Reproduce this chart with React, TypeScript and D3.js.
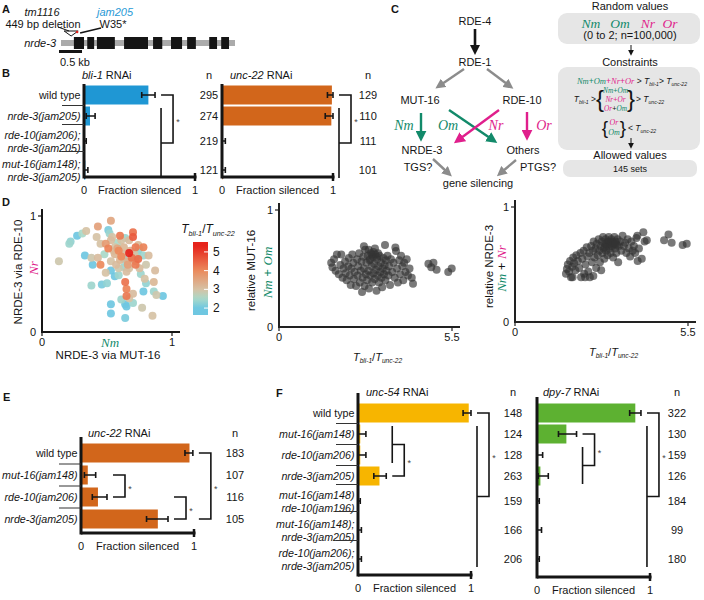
import React, { useEffect, useRef } from "react";
import * as d3 from "d3";

const SANS = "'Liberation Sans', Arial, Helvetica, sans-serif";
const SERIF = "'Liberation Serif', 'DejaVu Serif', serif";
const INK = "#151515";
const GREEN = "#128a6a";
const MAGENTA = "#e01f8c";
const ARROW_GRAY = "#8c8c8c";

// A: nrde-3 gene model (kb)
const geneLengthKb = 3.78;
const exonsKb: [number, number][] = [
  [0.28, 0.5], [0.57, 0.72], [0.78, 1.17], [1.37, 1.89], [2.0, 2.2],
  [2.39, 2.63], [2.74, 2.93], [3.22, 3.39], [3.48, 3.65],
];
const deletionKb = 0.22;
const jam205Kb = 0.35;
const scaleBarKb = 0.5;

// B: bli-1 and unc-22 RNAi
const bGenotypes = [
  ["wild type"], ["nrde-3(jam205)"],
  ["rde-10(jam206);", "nrde-3(jam205)"], ["mut-16(jam148);", "nrde-3(jam205)"],
];
const bli1Mean = [0.58, 0.054, 0.004, 0.012];
const bli1Low = [0.52, 0.02, 0, 0];
const bli1High = [0.64, 0.1, 0.02, 0.035];
const bli1N = [295, 274, 219, 121];
const bli1Brackets = [{ top: [0], bottom: [1, 3] }];
const unc22Mean = [0.99, 0.985, 0.004, 0.004];
const unc22Low = [0.95, 0.93, 0, 0];
const unc22High = [1.0, 1.0, 0.03, 0.03];
const unc22N = [129, 110, 111, 101];
const unc22Brackets = [{ top: [0], bottom: [1, 3] }];

// E: unc-22 RNAi single mutants
const eGenotypes = [["wild type"], ["mut-16(jam148)"], ["rde-10(jam206)"], ["nrde-3(jam205)"]];
const eMean = [0.96, 0.06, 0.15, 0.68];
const eLow = [0.92, 0.03, 0.1, 0.58];
const eHigh = [0.99, 0.13, 0.23, 0.77];
const eN = [183, 107, 116, 105];
const eBrackets = [
  { top: [1], bottom: [2] },
  { top: [2], bottom: [3] },
  { top: [0], bottom: [3] },
];

// F: unc-54 and dpy-7 RNAi
const fGenotypes = [
  ["wild type"], ["mut-16(jam148)"], ["rde-10(jam206)"], ["nrde-3(jam205)"],
  ["mut-16(jam148)", "rde-10(jam196)"], ["mut-16(jam148);", "nrde-3(jam205)"],
  ["rde-10(jam206);", "nrde-3(jam205)"],
];
const unc54Mean = [0.98, 0.02, 0.02, 0.19, 0.003, 0.006, 0.006];
const unc54Low = [0.93, 0, 0, 0.14, 0, 0, 0];
const unc54High = [1.0, 0.07, 0.07, 0.25, 0.02, 0.03, 0.03];
const unc54N = [148, 124, 128, 263, 159, 166, 206];
const unc54Brackets = [{ top: [1, 2], bottom: [3] }, { top: [0], bottom: [1, 6] }];
const dpy7Mean = [0.87, 0.26, 0.01, 0.03, 0.005, 0.005, 0.005];
const dpy7Low = [0.82, 0.19, 0, 0.01, 0, 0, 0];
const dpy7High = [0.92, 0.35, 0.05, 0.1, 0.02, 0.04, 0.02];
const dpy7N = [322, 130, 159, 126, 184, 99, 180];
const dpy7Brackets = [{ top: [1], bottom: [2, 3] }, { top: [0], bottom: [1, 6] }];

// D: allowed parameter sets  [Nm, Nr, Tbli-1/Tunc-22]
const setsNmNr: [number, number, number][] = [
  [0.27, 0.83, 2.0], [0.33, 0.66, 1.9], [0.39, 0.58, 2.0], [0.53, 0.53, 2.0], [0.56, 0.48, 1.9],
  [0.46, 0.41, 2.1], [0.78, 0.35, 2.0], [0.93, 0.31, 2.0], [0.53, 0.24, 1.9], [0.64, 0.24, 2.0],
  [0.65, 0.22, 1.9], [0.53, 0.16, 2.0], [0.64, 0.12, 2.1], [0.51, 0.88, 2.1], [0.74, 0.7, 2.0],
  [0.21, 0.76, 2.4], [0.22, 0.78, 2.3], [0.31, 0.85, 2.5], [0.52, 0.85, 2.4], [0.59, 0.49, 2.4],
  [0.38, 0.4, 2.4], [0.5, 0.42, 2.3], [0.76, 0.5, 2.4], [0.8, 0.42, 2.3], [0.86, 0.35, 2.4],
  [0.61, 0.28, 2.4], [0.7, 0.25, 2.4], [0.63, 0.63, 2.3], [0.75, 0.72, 2.4], [0.78, 0.66, 2.4],
  [0.48, 0.67, 2.5], [0.63, 0.56, 2.4], [0.64, 0.81, 2.4], [0.73, 0.66, 2.4], [0.58, 0.77, 2.5],
  [0.13, 0.61, 2.9], [0.34, 0.87, 3.0], [0.42, 0.82, 3.0], [0.38, 0.64, 2.9], [0.43, 0.64, 3.1],
  [0.54, 0.82, 3.0], [0.67, 0.79, 3.1], [0.56, 0.73, 3.0], [0.63, 0.73, 3.2], [0.69, 0.63, 3.0],
  [0.82, 0.66, 3.1], [0.8, 0.58, 2.9], [0.87, 0.53, 3.1], [0.49, 0.51, 3.0], [0.79, 0.46, 3.0],
  [0.86, 0.43, 3.2], [0.88, 0.32, 2.9], [0.7, 0.33, 3.1], [0.67, 0.29, 3.0], [0.77, 0.21, 2.9],
  [0.85, 0.14, 3.0], [0.56, 0.67, 3.2], [0.62, 0.67, 3.1], [0.71, 0.67, 3.0], [0.72, 0.61, 3.2],
  [0.67, 0.55, 3.0], [0.75, 0.55, 3.1], [0.53, 0.61, 3.0], [0.57, 0.58, 3.1], [0.59, 0.55, 2.9],
  [0.53, 0.79, 3.1], [0.61, 0.79, 3.0], [0.74, 0.75, 3.2], [0.66, 0.61, 3.3], [0.6, 0.62, 3.2],
  [0.55, 0.7, 3.0], [0.68, 0.7, 3.3], [0.45, 0.76, 3.0], [0.65, 0.52, 3.1],
  [0.43, 0.91, 3.6], [0.53, 0.96, 3.5], [0.49, 0.76, 3.7], [0.58, 0.72, 3.5], [0.66, 0.58, 3.6],
  [0.45, 0.58, 4.0], [0.6, 0.83, 4.2], [0.7, 0.86, 4.3], [0.7, 0.82, 4.6], [0.51, 0.72, 4.1],
  [0.72, 0.58, 4.2], [0.64, 0.43, 4.3], [0.65, 0.37, 4.1], [0.65, 0.31, 4.2], [0.59, 0.7, 4.0],
  [0.72, 0.73, 4.2], [0.78, 0.73, 4.1], [0.74, 0.63, 4.4], [0.61, 0.65, 4.0], [0.69, 0.64, 4.3],
  [0.67, 0.68, 5.3],
];
const ratioStops = [2, 2.5, 3, 4, 5.3];
const ratioColors = ["#6fc7e1", "#a9d9c8", "#d6c2a5", "#eb8a5c", "#e6231b"];
const ratioTicks = [2, 3, 4, 5];

// [Tbli-1/Tunc-22, Nm + Om]
const setsMut16: [number, number][] = [
  [1.66, 0.55], [1.7, 0.51], [1.75, 0.58], [1.8, 0.48], [1.84, 0.62], [1.9, 0.45], [1.95, 0.53],
  [1.98, 0.62], [2.02, 0.42], [2.05, 0.5], [2.1, 0.56], [2.12, 0.46], [2.15, 0.4], [2.2, 0.52],
  [2.22, 0.59], [2.25, 0.44], [2.28, 0.36], [2.3, 0.5], [2.33, 0.62], [2.36, 0.55], [2.38, 0.41],
  [2.4, 0.47], [2.45, 0.35], [2.48, 0.58], [2.5, 0.44], [2.52, 0.52], [2.55, 0.63], [2.57, 0.38],
  [2.6, 0.48], [2.62, 0.56], [2.64, 0.3], [2.66, 0.42], [2.68, 0.6], [2.7, 0.5], [2.72, 0.35],
  [2.74, 0.66], [2.76, 0.45], [2.78, 0.55], [2.8, 0.4], [2.82, 0.61], [2.84, 0.48], [2.86, 0.33],
  [2.88, 0.57], [2.9, 0.44], [2.92, 0.63], [2.94, 0.52], [2.96, 0.38], [2.98, 0.6], [3.0, 0.46],
  [3.02, 0.54], [3.04, 0.41], [3.06, 0.62], [3.08, 0.49], [3.1, 0.31], [3.12, 0.58], [3.14, 0.44],
  [3.16, 0.52], [3.18, 0.38], [3.2, 0.61], [3.22, 0.47], [3.24, 0.55], [3.26, 0.42], [3.28, 0.34],
  [3.3, 0.5], [3.32, 0.59], [3.34, 0.45], [3.36, 0.53], [3.38, 0.4], [3.4, 0.57], [3.42, 0.48],
  [3.45, 0.61], [3.48, 0.44], [3.5, 0.52], [3.53, 0.36], [3.56, 0.58], [3.6, 0.47], [3.64, 0.55],
  [3.68, 0.42], [3.72, 0.65], [3.75, 0.5], [3.78, 0.38], [3.82, 0.57], [3.85, 0.45], [3.88, 0.61],
  [3.92, 0.52], [3.95, 0.4], [3.98, 0.55], [4.02, 0.47], [4.06, 0.58], [4.1, 0.44], [4.15, 0.5],
  [4.22, 0.42], [4.26, 0.37], [2.7, 0.69], [2.85, 0.66], [3.05, 0.67], [3.37, 0.7], [3.7, 0.68],
  [2.95, 0.62], [3.0, 0.64], [3.1, 0.6], [2.9, 0.58], [3.15, 0.63],
  [4.75, 0.54], [4.91, 0.55], [4.84, 0.51], [5.01, 0.49], [5.38, 0.47], [5.49, 0.5],
];

// [Tbli-1/Tunc-22, Nm + Nr]
const setsNrde3: [number, number][] = [
  [1.62, 0.42], [1.65, 0.46], [1.68, 0.5], [1.72, 0.44], [1.75, 0.53], [1.78, 0.39], [1.82, 0.48],
  [1.85, 0.56], [1.88, 0.51], [1.92, 0.45], [1.95, 0.58], [2.0, 0.53], [2.04, 0.47], [2.08, 0.6],
  [2.1, 0.39], [2.14, 0.55], [2.18, 0.62], [2.2, 0.42], [2.24, 0.5], [2.28, 0.65], [2.3, 0.57],
  [2.33, 0.44], [2.36, 0.6], [2.38, 0.39], [2.42, 0.66], [2.45, 0.52], [2.48, 0.62], [2.5, 0.7],
  [2.53, 0.56], [2.56, 0.64], [2.58, 0.47], [2.6, 0.68], [2.63, 0.58], [2.66, 0.72], [2.68, 0.62],
  [2.7, 0.52], [2.72, 0.66], [2.74, 0.45], [2.76, 0.7], [2.78, 0.6], [2.8, 0.74], [2.82, 0.64],
  [2.84, 0.55], [2.86, 0.68], [2.88, 0.72], [2.9, 0.62], [2.92, 0.66], [2.94, 0.58], [2.96, 0.7],
  [2.98, 0.74], [3.0, 0.64], [3.02, 0.68], [3.04, 0.6], [3.06, 0.72], [3.08, 0.66], [3.1, 0.7],
  [3.12, 0.56], [3.14, 0.68], [3.16, 0.74], [3.18, 0.64], [3.2, 0.7], [3.22, 0.6], [3.24, 0.67],
  [3.26, 0.72], [3.28, 0.52], [3.3, 0.66], [3.34, 0.7], [3.38, 0.62], [3.42, 0.75], [3.46, 0.66],
  [3.5, 0.69], [3.54, 0.6], [3.58, 0.72], [3.62, 0.64], [3.66, 0.57], [3.7, 0.7], [3.74, 0.62],
  [3.78, 0.66], [3.82, 0.6], [3.86, 0.73], [3.89, 0.75], [3.9, 0.53], [3.94, 0.64], [4.03, 0.55],
  [4.08, 0.78], [4.12, 0.7], [4.19, 0.71], [2.9, 0.68], [3.0, 0.7], [3.1, 0.66], [2.85, 0.65],
  [3.2, 0.68], [1.83, 0.39], [2.23, 0.39], [2.49, 0.4],
  [4.74, 0.71], [4.88, 0.76], [4.98, 0.69], [5.33, 0.67], [5.46, 0.68],
];

type Sel = any;
type Part = { s: string; c?: string; i?: boolean; serif?: boolean; sub?: boolean };

function txt(g: Sel, x: number, y: number, s: string, o: any = {}) {
  const t = g.append("text")
    .attr("x", x).attr("y", y)
    .attr("font-size", o.size ?? 11)
    .attr("text-anchor", o.anchor ?? "middle")
    .attr("dominant-baseline", "central")
    .attr("fill", o.fill ?? INK)
    .text(s);
  if (o.weight) t.attr("font-weight", o.weight);
  if (o.italic) t.attr("font-style", "italic");
  if (o.family) t.attr("font-family", o.family);
  if (o.rotate) t.attr("transform", `rotate(${o.rotate},${x},${y})`);
  return t;
}

function rich(g: Sel, x: number, y: number, parts: Part[], size: number, anchor = "middle", rotate = 0) {
  const t = g.append("text").attr("x", x).attr("y", y)
    .attr("font-size", size).attr("text-anchor", anchor)
    .attr("dominant-baseline", "central").attr("fill", INK);
  let inSub = false;
  parts.forEach((p) => {
    const ts = t.append("tspan").text(p.s);
    if (p.c) ts.attr("fill", p.c);
    if (p.i) ts.attr("font-style", "italic");
    if (p.serif) ts.attr("font-family", SERIF);
    if (p.sub) {
      ts.attr("font-size", size * 0.6);
      if (!inSub) ts.attr("dy", size * 0.3);
      inSub = true;
    } else if (inSub) {
      ts.attr("dy", -size * 0.3);
      inSub = false;
    }
  });
  if (rotate) t.attr("transform", `rotate(${rotate},${x},${y})`);
  return t;
}

const ratioParts = (): Part[] => [
  { s: "T", i: true }, { s: "bli-1", i: true, sub: true }, { s: "/" },
  { s: "T", i: true }, { s: "unc-22", i: true, sub: true },
];
const sym = (s: string, c: string): Part => ({ s, c, i: true, serif: true });

function panelLetter(g: Sel, x: number, y: number, s: string) {
  txt(g, x, y, s, { size: 11, weight: "bold", anchor: "start" });
}

function rowCenters(genotypes: string[][], first: number, single: number) {
  const h = genotypes.map((l) => (l.length > 1 ? single + 8 : single));
  const ys: number[] = [first];
  for (let i = 1; i < h.length; i++) ys.push(ys[i - 1] + (h[i - 1] + h[i]) / 2);
  return ys;
}

function barPanel(svg: Sel, c: any) {
  const g = svg.append("g");
  const x = d3.scaleLinear().domain([0, 1]).range([c.x0, c.x1]);
  const ys = rowCenters(c.genotypes, c.firstRow, c.single);
  const bh = 19;

  rich(g, c.titleX, c.titleY, [{ s: c.gene, i: true }, { s: " RNAi" }], 11, "start");

  g.selectAll(".bar").data(c.mean).enter().append("rect")
    .attr("x", c.x0).attr("y", (_: any, i: number) => ys[i] - bh / 2)
    .attr("width", (d: number) => x(d) - c.x0).attr("height", bh)
    .attr("fill", c.color);

  c.mean.forEach((_: number, i: number) => {
    const lo = x(c.low[i]), hi = x(c.high[i]);
    g.append("path")
      .attr("d", `M${lo},${ys[i]}H${hi}M${lo},${ys[i] - 3}V${ys[i] + 3}M${hi},${ys[i] - 3}V${ys[i] + 3}`)
      .attr("stroke", INK).attr("stroke-width", 1.6).attr("fill", "none");
  });

  // axes
  g.append("line").attr("x1", c.x0).attr("x2", c.x0).attr("y1", c.axisTop).attr("y2", c.axisY + 1.5)
    .attr("stroke", INK).attr("stroke-width", 3);
  g.append("line").attr("x1", c.x0).attr("x2", c.x1 + 1.5).attr("y1", c.axisY).attr("y2", c.axisY)
    .attr("stroke", INK).attr("stroke-width", 3);
  g.append("line").attr("x1", x(1)).attr("x2", x(1)).attr("y1", c.axisY - 4).attr("y2", c.axisY + 4)
    .attr("stroke", INK).attr("stroke-width", 2.5);
  txt(g, x(0), c.axisY + 13, "0");
  txt(g, x(1), c.axisY + 13, "1");
  txt(g, (c.x0 + c.x1) / 2, c.axisY + 13, "Fraction silenced");

  if (c.showLabels) {
    c.genotypes.forEach((lines: string[], i: number) => {
      lines.forEach((l, k) => {
        const dy = lines.length > 1 ? (k === 0 ? -6.5 : 6.5) : 0;
        txt(g, c.x0 - 3.5, ys[i] + dy, l, { anchor: "end", italic: l !== "wild type", size: 10.7 });
      });
      if (i > 0) {
        const sy = (ys[i - 1] + ys[i]) / 2 + (lines.length > 1 ? -4 : 0);
        g.append("line").attr("x1", c.x0 - 22).attr("x2", c.x0).attr("y1", sy).attr("y2", sy)
          .attr("stroke", "#333").attr("stroke-width", 1);
      }
    });
  }

  txt(g, c.nX, c.titleY, "n");
  c.n.forEach((v: number, i: number) => txt(g, c.nX, ys[i], String(v)));

  c.brackets.forEach((b: any) => {
    const rows = d3.range(b.top[0], b.bottom[b.bottom.length - 1] + 1);
    const left = (d3.max(rows, (r: number) => x(c.high[r])) as number) + 6;
    const right = left + 12;
    const arm = (grp: number[]) => {
      if (grp.length === 1) return ys[grp[0]];
      const y1 = ys[grp[0]] - 8, y2 = ys[grp[1]] + 8;
      g.append("line").attr("x1", left).attr("x2", left).attr("y1", y1).attr("y2", y2)
        .attr("stroke", INK).attr("stroke-width", 1.6);
      return (y1 + y2) / 2;
    };
    const ya = arm(b.top), yb = arm(b.bottom);
    g.append("path").attr("d", `M${left},${ya}H${right}V${yb}H${left}`)
      .attr("fill", "none").attr("stroke", INK).attr("stroke-width", 1.6);
    txt(g, right + 5, (ya + yb) / 2 + 3, "*", { size: 9, fill: "#444" });
  });
}

function drawA(svg: Sel) {
  const g = svg.append("g");
  panelLetter(g, 2, 9, "A");
  const x = d3.scaleLinear().domain([0, geneLengthKb]).range([61, 235]);
  const ym = 43;
  g.append("rect").attr("x", x(0)).attr("y", ym - 3).attr("width", x(geneLengthKb) - x(0))
    .attr("height", 6).attr("fill", "#ababab");
  g.selectAll(".exon").data(exonsKb).enter().append("rect")
    .attr("x", (d: number[]) => x(d[0])).attr("y", ym - 6)
    .attr("width", (d: number[]) => x(d[1]) - x(d[0])).attr("height", 12).attr("fill", INK);
  g.append("rect").attr("x", x(0) - 2).attr("y", 50).attr("width", x(scaleBarKb) - x(0))
    .attr("height", 3).attr("fill", INK);
  txt(g, x(0) - 1, 62, "0.5 kb", { anchor: "start" });
  txt(g, 56, ym, "nrde-3", { anchor: "end", italic: true });
  txt(g, 42, 12, "tm1116", { italic: true });
  txt(g, 43, 24, "449 bp deletion");
  txt(g, 115, 12, "jam205", { italic: true, fill: "#2a9ad6" });
  txt(g, 113, 24, "W35*");
  const dx = x(deletionKb);
  g.append("path").attr("d", `M${dx - 7},${31}L${dx + 7},${31}L${dx},${36}Z`)
    .attr("fill", "#fff").attr("stroke", INK).attr("stroke-width", 1);
  g.append("line").attr("x1", 58).attr("y1", 27).attr("x2", dx - 2).attr("y2", 31)
    .attr("stroke", INK).attr("stroke-width", 1);
  g.append("circle").attr("cx", x(jam205Kb)).attr("cy", 32).attr("r", 1.3).attr("fill", "#e0201b");
  g.append("line").attr("x1", 101).attr("y1", 28).attr("x2", x(jam205Kb) + 3).attr("y2", 33)
    .attr("stroke", INK).attr("stroke-width", 1.6);
}

function drawC(svg: Sel) {
  const g = svg.append("g");
  panelLetter(g, 391, 9, "C");
  const defs = svg.append("defs");
  const marker = (id: string, col: string, s: number) => {
    defs.append("marker").attr("id", id).attr("viewBox", "0 0 10 10").attr("refX", 2).attr("refY", 5)
      .attr("markerUnits", "userSpaceOnUse").attr("markerWidth", s).attr("markerHeight", s)
      .attr("orient", "auto").append("path").attr("d", "M0,0L10,5L0,10Z").attr("fill", col);
  };
  marker("mk-black", INK, 10);
  marker("mk-gray", ARROW_GRAY, 10);
  marker("mk-green", GREEN, 11);
  marker("mk-mag", MAGENTA, 11);
  marker("mk-small", INK, 6);
  const arrow = (x1: number, y1: number, x2: number, y2: number, col: string, mk: string, w = 2.4) =>
    g.append("line").attr("x1", x1).attr("y1", y1).attr("x2", x2).attr("y2", y2)
      .attr("stroke", col).attr("stroke-width", w).attr("marker-end", `url(#${mk})`);

  txt(g, 475, 21, "RDE-4");
  txt(g, 475, 62, "RDE-1");
  txt(g, 420, 100, "MUT-16");
  txt(g, 522, 100, "RDE-10");
  txt(g, 422, 150, "NRDE-3");
  txt(g, 523, 150, "Others");
  txt(g, 418, 167, "TGS?");
  txt(g, 538, 167, "PTGS?");
  txt(g, 478, 183, "gene silencing");

  arrow(475, 29, 475, 47, INK, "mk-black", 2.6);
  arrow(464, 69, 442, 84, ARROW_GRAY, "mk-gray");
  arrow(487, 69, 507, 84, ARROW_GRAY, "mk-gray");
  arrow(421, 113, 421, 133, GREEN, "mk-green");
  arrow(449, 110, 490, 138, GREEN, "mk-green");
  arrow(499, 110, 461, 138, MAGENTA, "mk-mag");
  arrow(527, 112, 527, 132, MAGENTA, "mk-mag");
  arrow(433, 159, 446, 171, ARROW_GRAY, "mk-gray");
  arrow(516, 160, 503, 171, ARROW_GRAY, "mk-gray");

  rich(g, 404, 125, [sym("Nm", GREEN)], 14);
  rich(g, 448, 125, [sym("Om", GREEN)], 14);
  rich(g, 496, 125, [sym("Nr", MAGENTA)], 14);
  rich(g, 544, 125, [sym("Or", MAGENTA)], 14);

  // simulation flow
  txt(g, 630, 6, "Random values");
  g.append("rect").attr("x", 558).attr("y", 13).attr("width", 142).attr("height", 31).attr("rx", 9).attr("fill", "#e6e6e6");
  rich(g, 591, 23, [sym("Nm", GREEN)], 13.5);
  rich(g, 620, 23, [sym("Om", GREEN)], 13.5);
  rich(g, 648, 23, [sym("Nr", MAGENTA)], 13.5);
  rich(g, 670, 23, [sym("Or", MAGENTA)], 13.5);
  txt(g, 630, 35, "(0 to 2; n=100,000)");
  arrow(631, 45, 631, 51, INK, "mk-small", 1);
  txt(g, 630, 62, "Constraints");
  g.append("rect").attr("x", 558).attr("y", 67).attr("width", 142).attr("height", 83).attr("rx", 9).attr("fill", "#e6e6e6");
  const T = (sub: string): Part[] => [{ s: "T", i: true }, { s: sub, i: true, sub: true }];
  rich(g, 632, 81, [
    sym("Nm", GREEN), { s: "+", c: GREEN }, sym("Om", GREEN), { s: "+", c: MAGENTA }, sym("Nr", MAGENTA),
    { s: "+", c: MAGENTA }, sym("Or", MAGENTA), { s: " > " }, ...T("bli-1"), { s: "> " }, ...T("unc-22"),
  ], 8.5);
  rich(g, 596, 99, [...T("bli-1"), { s: " >" }], 8.5, "end");
  txt(g, 600, 98, "{", { size: 24, weight: 300 });
  txt(g, 631, 98, "}", { size: 24, weight: 300 });
  rich(g, 615.5, 90, [sym("Nm", GREEN), { s: "+", c: GREEN }, sym("Om", GREEN)], 7.3);
  rich(g, 615.5, 99, [sym("Nr", MAGENTA), { s: "+", c: MAGENTA }, sym("Or", MAGENTA)], 7.3);
  rich(g, 615.5, 108, [sym("Or", MAGENTA), { s: "+" }, sym("Om", GREEN)], 7.3);
  rich(g, 636, 99, [{ s: "> " }, ...T("unc-22")], 8.5, "start");
  txt(g, 605, 127, "{", { size: 19, weight: 300 });
  txt(g, 623, 127, "}", { size: 19, weight: 300 });
  rich(g, 614, 122, [sym("Or", MAGENTA)], 8);
  rich(g, 614, 132, [sym("Om", GREEN)], 8);
  rich(g, 628, 128, [{ s: "< " }, ...T("unc-22")], 8.5, "start");
  arrow(631, 138, 631, 144, INK, "mk-small", 1);
  txt(g, 630, 155, "Allowed values");
  g.append("rect").attr("x", 563).attr("y", 160).attr("width", 134).attr("height", 17).attr("rx", 7).attr("fill", "#e6e6e6");
  txt(g, 630, 169, "145 sets", { size: 9 });
}

function axesFrame(g: Sel, x: any, y: any, xTicks: number[], col: string) {
  const [xa, xb] = x.range();
  const [yb, ya] = y.range();
  g.append("line").attr("x1", xa).attr("x2", xa).attr("y1", ya - 7).attr("y2", yb + 1)
    .attr("stroke", col).attr("stroke-width", 2);
  g.append("line").attr("x1", xa).attr("x2", xb + 8).attr("y1", yb).attr("y2", yb)
    .attr("stroke", col).attr("stroke-width", 2);
  g.append("line").attr("x1", xa - 4).attr("x2", xa).attr("y1", y(1)).attr("y2", y(1)).attr("stroke", col).attr("stroke-width", 1.2);
  txt(g, xa - 6, y(1), "1", { anchor: "end" });
  txt(g, xa - 6, y(0), "0", { anchor: "end" });
  xTicks.forEach((v) => {
    g.append("line").attr("x1", x(v)).attr("x2", x(v)).attr("y1", yb).attr("y2", yb + 4).attr("stroke", col).attr("stroke-width", 1.2);
    txt(g, x(v), yb + 10, String(v));
  });
}

function drawD(svg: Sel) {
  const g = svg.append("g");
  panelLetter(g, 2, 202, "D");
  const x = d3.scaleLinear().domain([0, 1]).range([42, 172]);
  const y = d3.scaleLinear().domain([0, 1]).range([332, 216]);
  const color = d3.scaleLinear<string>().domain(ratioStops).range(ratioColors).clamp(true);
  axesFrame(g, x, y, [0, 1], INK);
  const pts = [...setsNmNr].sort((a, b) => a[2] - b[2]);
  g.selectAll(".pt").data(pts).enter().append("circle")
    .attr("cx", (d: number[]) => x(d[0])).attr("cy", (d: number[]) => y(d[1]))
    .attr("r", 4).attr("fill", (d: number[]) => color(d[2])).attr("opacity", 0.92);
  txt(g, 18, 272, "NRDE-3 via RDE-10", { rotate: -90, size: 11.5 });
  rich(g, 33, 268, [sym("Nr", MAGENTA)], 13, "middle", -90);
  rich(g, 110, 342, [sym("Nm", GREEN)], 13);
  txt(g, 108, 355, "NRDE-3 via MUT-16", { size: 11.5 });

  // colour bar
  const cy = d3.scaleLinear().domain([1.63, 5.53]).range([315, 242]);
  const grad = svg.append("defs").append("linearGradient").attr("id", "ratioGrad")
    .attr("x1", 0).attr("y1", 1).attr("x2", 0).attr("y2", 0);
  d3.range(0, 1.0001, 0.05).forEach((f: number) => {
    const v = 1.63 + f * (5.53 - 1.63);
    grad.append("stop").attr("offset", f).attr("stop-color", color(v));
  });
  g.append("rect").attr("x", 193).attr("y", cy(5.53)).attr("width", 15).attr("height", cy(1.63) - cy(5.53))
    .attr("fill", "url(#ratioGrad)");
  ratioTicks.forEach((v) => {
    g.append("line").attr("x1", 204).attr("x2", 208).attr("y1", cy(v)).attr("y2", cy(v)).attr("stroke", "#fff").attr("stroke-width", 1);
    txt(g, 213, cy(v), String(v), { anchor: "start", size: 12 });
  });
  rich(g, 208, 229, ratioParts(), 12);
}

function drawScatter(svg: Sel, data: [number, number][], xr: [number, number], yr: [number, number], ylab: Part[], ylabX: [number, number]) {
  const g = svg.append("g");
  const x = d3.scaleLinear().domain([0, 5.5]).range(xr);
  const y = d3.scaleLinear().domain([0, 1]).range(yr);
  axesFrame(g, x, y, [0, 5.5], "#222");
  g.selectAll(".pt").data(data).enter().append("circle")
    .attr("cx", (d: number[]) => x(d[0])).attr("cy", (d: number[]) => y(d[1]))
    .attr("r", 4).attr("fill", "#333").attr("opacity", 0.66);
  rich(g, (xr[0] + xr[1]) / 2 + 12, yr[0] + 30, ratioParts(), 11);
  txt(g, ylabX[0], (yr[0] + yr[1]) / 2 + 2, ylab[0].s, { rotate: -90, size: 11.5 });
  rich(g, ylabX[1], (yr[0] + yr[1]) / 2 + 4, ylab.slice(1), 13, "middle", -90);
}

export default function App() {
  const ref = useRef<SVGSVGElement>(null);
  useEffect(() => {
    const svg = d3.select(ref.current);
    svg.selectAll("*").remove();
    svg.append("rect").attr("width", 704).attr("height", 600).attr("fill", "#fff");
    drawA(svg);
    panelLetter(svg, 2, 73, "B");
    barPanel(svg, {
      x0: 84, x1: 195, axisTop: 84, axisY: 177, firstRow: 95, single: 21,
      genotypes: bGenotypes, showLabels: true, mean: bli1Mean, low: bli1Low, high: bli1High,
      n: bli1N, nX: 209, color: "#1f97d4", gene: "bli-1", titleX: 82, titleY: 75, brackets: bli1Brackets,
    });
    barPanel(svg, {
      x0: 222, x1: 333, axisTop: 84, axisY: 177, firstRow: 95, single: 21,
      genotypes: bGenotypes, showLabels: false, mean: unc22Mean, low: unc22Low, high: unc22High,
      n: unc22N, nX: 368, color: "#d2661b", gene: "unc-22", titleX: 230, titleY: 75, brackets: unc22Brackets,
    });
    drawC(svg);
    drawD(svg);
    drawScatter(svg, setsMut16, [279, 452], [327, 210],
      [{ s: "relative MUT-16" }, sym("Nm", GREEN), { s: " + ", c: GREEN }, sym("Om", GREEN)], [251, 267]);
    drawScatter(svg, setsNrde3, [515, 688], [322, 207],
      [{ s: "relative NRDE-3" }, sym("Nm", GREEN), { s: " + " }, sym("Nr", MAGENTA)], [489, 501]);
    panelLetter(svg, 3, 397, "E");
    barPanel(svg, {
      x0: 81, x1: 194, axisTop: 437, axisY: 533, firstRow: 453, single: 22,
      genotypes: eGenotypes, showLabels: true, mean: eMean, low: eLow, high: eHigh,
      n: eN, nX: 235, color: "#d2661b", gene: "unc-22", titleX: 88, titleY: 433, brackets: eBrackets,
    });
    panelLetter(svg, 276, 393, "F");
    barPanel(svg, {
      x0: 358, x1: 471, axisTop: 393, axisY: 575, firstRow: 413, single: 21,
      genotypes: fGenotypes, showLabels: true, mean: unc54Mean, low: unc54Low, high: unc54High,
      n: unc54N, nX: 513, color: "#f7b500", gene: "unc-54", titleX: 366, titleY: 392, brackets: unc54Brackets,
    });
    barPanel(svg, {
      x0: 537, x1: 650, axisTop: 397, axisY: 577, firstRow: 413, single: 21,
      genotypes: fGenotypes, showLabels: false, mean: dpy7Mean, low: dpy7Low, high: dpy7High,
      n: dpy7N, nX: 677, color: "#5db131", gene: "dpy-7", titleX: 543, titleY: 392, brackets: dpy7Brackets,
    });
  }, []);
  return (
    <svg ref={ref} width={704} height={600} fontFamily={SANS}
      style={{ position: "absolute", left: 0, top: 0, display: "block" }} />
  );
}
